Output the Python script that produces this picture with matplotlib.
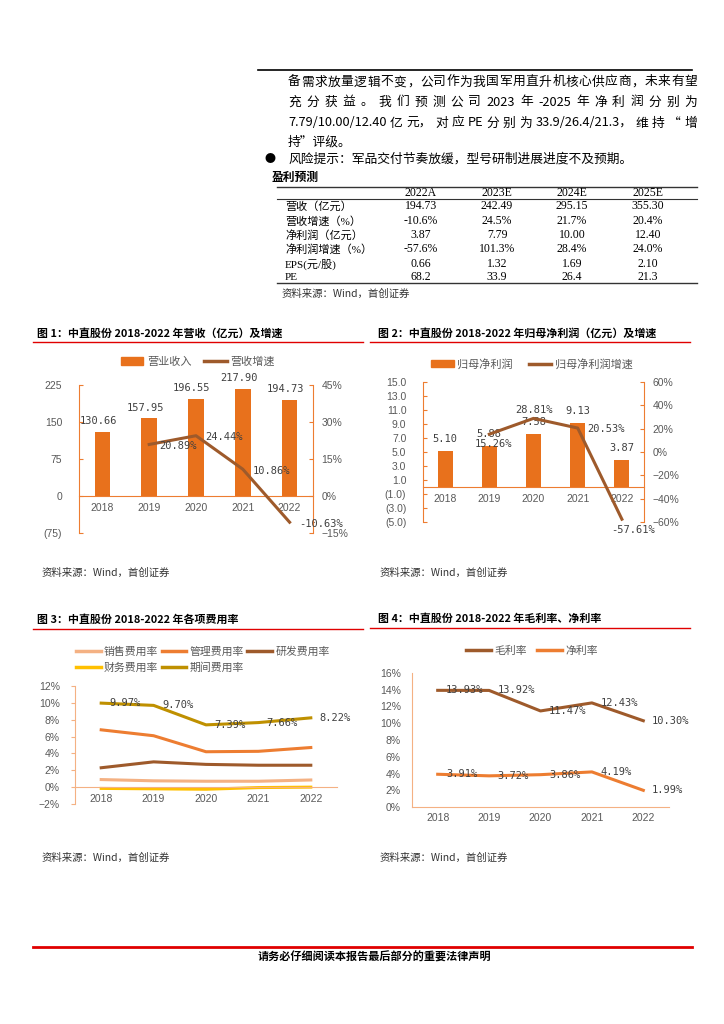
import matplotlib
matplotlib.use('Agg')
import matplotlib.pyplot as plt
from matplotlib.lines import Line2D
from matplotlib.patches import Patch

plt.rcParams['font.family'] = ['Noto Sans CJK SC', 'DejaVu Sans']
plt.rcParams['axes.unicode_minus'] = False

# ---- 数据 ----
years = ['2018', '2019', '2020', '2021', '2022']
revenue = [130.66, 157.95, 196.55, 217.90, 194.73]
revenue_growth = [20.89, 24.44, 10.86, -10.63]          # 2019-2022
net_profit = [5.10, 5.88, 7.58, 9.13, 3.87]
profit_growth = [15.26, 28.81, 20.53, -57.61]           # 2019-2022
sales_rate = [0.9, 0.75, 0.7, 0.7, 0.85]
admin_rate = [6.8, 6.1, 4.2, 4.25, 4.7]
rd_rate = [2.3, 3.0, 2.7, 2.6, 2.6]
fin_rate = [-0.15, -0.2, -0.25, -0.05, 0.0]
period_rate = [9.97, 9.70, 7.39, 7.66, 8.22]
gross_margin = [13.93, 13.92, 11.47, 12.43, 10.30]
net_margin = [3.91, 3.72, 3.86, 4.19, 1.99]

tbl_cols = ['2022A', '2023E', '2024E', '2025E']
tbl_rows = ['营收（亿元）', '营收增速（%）', '净利润（亿元）', '净利润增速（%）', 'EPS(元/股)', 'PE']
tbl_vals = [['194.73', '242.49', '295.15', '355.30'],
            ['-10.6%', '24.5%', '21.7%', '20.4%'],
            ['3.87', '7.79', '10.00', '12.40'],
            ['-57.6%', '101.3%', '28.4%', '24.0%'],
            ['0.66', '1.32', '1.69', '2.10'],
            ['68.2', '33.9', '26.4', '21.3']]

# ---- 颜色 ----
BAR = '#E8711C'
BROWN = '#9E5A2B'
ORG = '#ED7D31'
LORG = '#F4B183'
GREY = '#595959'
RED = '#E00000'
TICKF = ['Liberation Sans', 'DejaVu Sans']
LABF = 'DejaVu Sans Mono'

W, H = 724, 1024
fig = plt.figure(figsize=(W / 100, H / 100), dpi=100)


def X(px):
    return px / W


def Y(py):
    return 1 - py / H


def box(l, t, r, b):
    return [X(l), Y(b), (r - l) / W, (b - t) / H]


def hline(x0, x1, y, color, lw):
    fig.add_artist(Line2D([X(x0), X(x1)], [Y(y), Y(y)], color=color, lw=lw,
                          transform=fig.transFigure))


def justify(tokens, y, x0, x1, size):
    r = fig.canvas.get_renderer()
    ts = [fig.text(X(x0), Y(y), t, fontsize=size, va='center') for t in tokens]
    ws = [t.get_window_extent(r).width for t in ts]
    gap = (x1 - x0 - sum(ws)) / (len(ts) - 1)
    x = x0
    for t, w in zip(ts, ws):
        t.set_x(X(x))
        x += w + gap


def tick_fonts(ax):
    for lab in ax.get_xticklabels() + ax.get_yticklabels():
        lab.set_family(TICKF)


# ---- 顶部正文 ----
hline(258, 692, 70, 'black', 1.2)
justify(list('备需求放量逻辑不变，公司作为我国军用直升机核心供应商，未来有望'), 82, 288, 697, 9.2)
justify(['充', '分', '获', '益', '。', '我', '们', '预', '测', '公', '司', '2023', '年', '-2025', '年',
         '净', '利', '润', '分', '别', '为'], 102, 288, 697, 9.2)
justify(['7.79/10.00/12.40', '亿', '元，', '对', '应', 'PE', '分', '别', '为', '33.9/26.4/21.3，',
         '维', '持', '“', '增'], 123, 288, 697, 9.2)
fig.text(X(288), Y(142), '持”评级。', fontsize=9.2, va='center')
fig.text(X(270), Y(159), '●', fontsize=8, va='center', ha='center')
fig.text(X(288), Y(159), '风险提示：军品交付节奏放缓，型号研制进展进度不及预期。', fontsize=9.2, va='center')
fig.text(X(272), Y(177), '盈利预测', fontsize=8.5, va='center', weight='bold')

# ---- 盈利预测表 ----
hline(277, 697, 187, '#333333', 1.0)
hline(277, 697, 199, '#333333', 0.8)
hline(277, 697, 283, '#333333', 1.0)
col_x = [421, 497, 572, 648]
row_y = [206, 221, 235, 249, 264, 277]
for cx, c in zip(col_x, tbl_cols):
    fig.text(X(cx), Y(193), c, fontsize=8.5, ha='center', va='center', family=['Liberation Serif'])
for ry, lab, vals in zip(row_y, tbl_rows, tbl_vals):
    fig.text(X(285), Y(ry), lab, fontsize=8, va='center',
             family=['Liberation Serif', 'Noto Sans CJK SC'])
    for cx, v in zip(col_x, vals):
        fig.text(X(cx), Y(ry), v, fontsize=8.5, ha='center', va='center', family=['Liberation Serif'])
fig.text(X(282), Y(294), '资料来源：Wind，首创证券', fontsize=7.5, va='center', style='italic', color='#333333')

# ---- 标题与来源 ----
fig.text(X(37), Y(333), '图 1：中直股份 2018-2022 年营收（亿元）及增速', fontsize=7.9, va='center', weight='bold')
fig.text(X(378), Y(333), '图 2：中直股份 2018-2022 年归母净利润（亿元）及增速', fontsize=7.9, va='center', weight='bold')
hline(33, 363, 342, RED, 1.0)
hline(370, 690, 342, RED, 1.0)
fig.text(X(37), Y(619), '图 3：中直股份 2018-2022 年各项费用率', fontsize=7.9, va='center', weight='bold')
fig.text(X(378), Y(619), '图 4：中直股份 2018-2022 年毛利率、净利率', fontsize=7.9, va='center', weight='bold')
hline(33, 363, 629, RED, 1.0)
hline(370, 690, 628, RED, 1.0)
for sx, sy in [(42, 573), (380, 573), (42, 858), (380, 858)]:
    fig.text(X(sx), Y(sy), '资料来源：Wind，首创证券', fontsize=7.5, va='center', style='italic', color='#333333')

# ---- 图1 ----
xs = list(range(5))
ax1 = fig.add_axes(box(79, 385, 313, 533))
ax1.bar(xs, revenue, width=0.33, color=BAR)
ax1.set_xlim(-0.5, 4.5)
ax1.set_ylim(-75, 225)
ax1.set_xticks(xs)
ax1.set_xticklabels(years)
ax1.set_yticks([-75, 0, 75, 150, 225])
ax1.set_yticklabels(['(75)', '0', '75', '150', '225'])
ax1.get_yticklabels()[0].set_color('red')
ax1.spines['top'].set_visible(False)
ax1.spines['right'].set_visible(False)
ax1.spines['bottom'].set_position(('data', 0))
ax1.spines['bottom'].set_color(ORG)
ax1.spines['left'].set_color(ORG)
ax1.tick_params(axis='x', length=0, pad=5, labelsize=7.5, labelcolor=GREY)
ax1.tick_params(axis='y', direction='in', length=3, color=ORG, labelsize=7.5, labelcolor=GREY, pad=12)
tick_fonts(ax1)
for i, v in enumerate(revenue):
    ax1.annotate(f'{v:.2f}', (i, v), xytext=(-3, 4), textcoords='offset points',
                 ha='center', va='bottom', fontsize=7.5, color='#404040', family=LABF)
ax1b = ax1.twinx()
ax1b.plot(xs[1:], revenue_growth, color=BROWN, lw=2.2)
ax1b.set_ylim(-15, 45)
ax1b.set_yticks([-15, 0, 15, 30, 45])
ax1b.set_yticklabels(['−15%', '0%', '15%', '30%', '45%'])
for s in ['top', 'bottom', 'left']:
    ax1b.spines[s].set_visible(False)
ax1b.spines['right'].set_color(ORG)
ax1b.tick_params(axis='y', direction='in', length=3, color=ORG, labelsize=7.5, labelcolor=GREY, pad=6)
tick_fonts(ax1b)
for i, v in zip(xs[1:], revenue_growth):
    ax1b.annotate(f'{v:.2f}%', (i, v), xytext=(7, -1), textcoords='offset points',
                  ha='left', va='center', fontsize=7.5, color='#404040', family=LABF)
ax1.legend([Patch(color=BAR), Line2D([], [], color=BROWN, lw=2.5)], ['营业收入', '营收增速'],
           loc='center', bbox_to_anchor=(X(198), Y(362)), bbox_transform=fig.transFigure,
           ncol=2, frameon=False, fontsize=8, handlelength=2.0, handletextpad=0.35,
           columnspacing=1.15, labelcolor=GREY)

# ---- 图2 ----
ax2 = fig.add_axes(box(423, 382, 644, 522))
ax2.bar(xs, net_profit, width=0.34, color=BAR)
ax2.set_xlim(-0.5, 4.5)
ax2.set_ylim(-5, 15)
ax2.set_xticks(xs)
ax2.set_xticklabels(years)
lticks = [-5, -3, -1, 1, 3, 5, 7, 9, 11, 13, 15]
ax2.set_yticks(lticks)
ax2.set_yticklabels([f'({-t:.1f})' if t < 0 else f'{t:.1f}' for t in lticks])
for lab, t in zip(ax2.get_yticklabels(), lticks):
    if t < 0:
        lab.set_color('red')
ax2.spines['top'].set_visible(False)
ax2.spines['right'].set_visible(False)
ax2.spines['bottom'].set_position(('data', 0))
ax2.spines['bottom'].set_color(ORG)
ax2.spines['left'].set_color(ORG)
ax2.tick_params(axis='x', length=0, pad=5, labelsize=7.5, labelcolor=GREY)
ax2.tick_params(axis='y', direction='in', length=3, color=ORG, labelsize=7.5, labelcolor=GREY, pad=12)
tick_fonts(ax2)
for i, v in enumerate(net_profit):
    ax2.annotate(f'{v:.2f}', (i, v), xytext=(0, 5), textcoords='offset points',
                 ha='center', va='bottom', fontsize=7.5, color='#404040', family=LABF)
ax2b = ax2.twinx()
ax2b.plot(xs[1:], profit_growth, color=BROWN, lw=2.2)
ax2b.set_ylim(-60, 60)
ax2b.set_yticks([-60, -40, -20, 0, 20, 40, 60])
ax2b.set_yticklabels(['−60%', '−40%', '−20%', '0%', '20%', '40%', '60%'])
for s in ['top', 'bottom', 'left']:
    ax2b.spines[s].set_visible(False)
ax2b.spines['right'].set_color(ORG)
ax2b.tick_params(axis='y', direction='in', length=3, color=ORG, labelsize=7.5, labelcolor=GREY, pad=6)
tick_fonts(ax2b)
g_off = [(3, -7, 'center', 'center'), (0, 6, 'center', 'center'),
         (7, -1, 'left', 'center'), (8, -8, 'center', 'center')]
for i, v, (dx, dy, ha, va) in zip(xs[1:], profit_growth, g_off):
    ax2b.annotate(f'{v:.2f}%', (i, v), xytext=(dx, dy), textcoords='offset points',
                  ha=ha, va=va, fontsize=7.5, color='#404040', family=LABF)
ax2.legend([Patch(color=BAR), Line2D([], [], color=BROWN, lw=2.5)], ['归母净利润', '归母净利润增速'],
           loc='center', bbox_to_anchor=(X(532), Y(364)), bbox_transform=fig.transFigure,
           ncol=2, frameon=False, fontsize=8, handlelength=2.0, handletextpad=0.35,
           columnspacing=1.4, labelcolor=GREY)

# ---- 图3 ----
ax3 = fig.add_axes(box(75, 686, 337, 804))
ax3.plot(xs, sales_rate, color=LORG, lw=2.2)
ax3.plot(xs, admin_rate, color=ORG, lw=2.2)
ax3.plot(xs, rd_rate, color=BROWN, lw=2.2)
ax3.plot(xs, fin_rate, color='#FFC000', lw=2.2)
ax3.plot(xs, period_rate, color='#BF9000', lw=2.2)
ax3.set_xlim(-0.5, 4.5)
ax3.set_ylim(-2, 12)
ax3.set_xticks(xs)
ax3.set_xticklabels(years)
ax3.set_yticks(range(-2, 13, 2))
ax3.set_yticklabels([f'{t}%' if t >= 0 else f'−{-t}%' for t in range(-2, 13, 2)])
ax3.spines['top'].set_visible(False)
ax3.spines['right'].set_visible(False)
ax3.spines['bottom'].set_position(('data', 0))
ax3.spines['bottom'].set_color(LORG)
ax3.spines['left'].set_color(LORG)
ax3.tick_params(axis='x', length=0, pad=5, labelsize=7.5, labelcolor=GREY)
ax3.tick_params(axis='y', direction='out', length=3, color=LORG, labelsize=7.5, labelcolor=GREY, pad=8)
tick_fonts(ax3)
for i, v in enumerate(period_rate):
    ax3.annotate(f'{v:.2f}%', (i, v), xytext=(6, 0), textcoords='offset points',
                 ha='left', va='center', fontsize=7.5, color='#404040', family=LABF)
h3 = [Line2D([], [], color=c, lw=2.5) for c in [LORG, '#FFC000', ORG, '#BF9000', BROWN]]
ax3.legend(h3, ['销售费用率', '财务费用率', '管理费用率', '期间费用率', '研发费用率'],
           loc='upper left', bbox_to_anchor=(X(66), Y(637)), bbox_transform=fig.transFigure,
           ncol=3, frameon=False, fontsize=7.8, handlelength=2.3, columnspacing=0.3,
           handletextpad=0.3, labelspacing=0.5, labelcolor=GREY)

# ---- 图4 ----
ax4 = fig.add_axes(box(412, 673, 669, 807))
ax4.plot(xs, gross_margin, color=BROWN, lw=2.2)
ax4.plot(xs, net_margin, color=ORG, lw=2.2)
ax4.set_xlim(-0.5, 4.5)
ax4.set_ylim(0, 16)
ax4.set_xticks(xs)
ax4.set_xticklabels(years)
ax4.set_yticks(range(0, 17, 2))
ax4.set_yticklabels([f'{t}%' for t in range(0, 17, 2)])
ax4.spines['top'].set_visible(False)
ax4.spines['right'].set_visible(False)
ax4.spines['bottom'].set_color(LORG)
ax4.spines['left'].set_color(LORG)
ax4.tick_params(axis='x', length=0, pad=4, labelsize=7.5, labelcolor=GREY)
ax4.tick_params(axis='y', length=0, labelsize=7.5, labelcolor=GREY, pad=8)
tick_fonts(ax4)
for i, v in enumerate(gross_margin):
    ax4.annotate(f'{v:.2f}%', (i, v), xytext=(6, 0), textcoords='offset points',
                 ha='left', va='center', fontsize=7.5, color='#404040', family=LABF)
for i, v in enumerate(net_margin):
    ax4.annotate(f'{v:.2f}%', (i, v), xytext=(6, 0), textcoords='offset points',
                 ha='left', va='center', fontsize=7.5, color='#404040', family=LABF)
ax4.legend([Line2D([], [], color=BROWN, lw=2.5), Line2D([], [], color=ORG, lw=2.5)], ['毛利率', '净利率'],
           loc='center', bbox_to_anchor=(X(532), Y(651)), bbox_transform=fig.transFigure,
           ncol=2, frameon=False, fontsize=7.8, handlelength=2.3, handletextpad=0.25,
           columnspacing=1.0, labelcolor=GREY)

# ---- 页脚 ----
hline(33, 692, 947, RED, 2.0)
fig.text(X(374), Y(957), '请务必仔细阅读本报告最后部分的重要法律声明', fontsize=8, ha='center', va='center', weight='bold')

fig.savefig('out.png', dpi=100)
